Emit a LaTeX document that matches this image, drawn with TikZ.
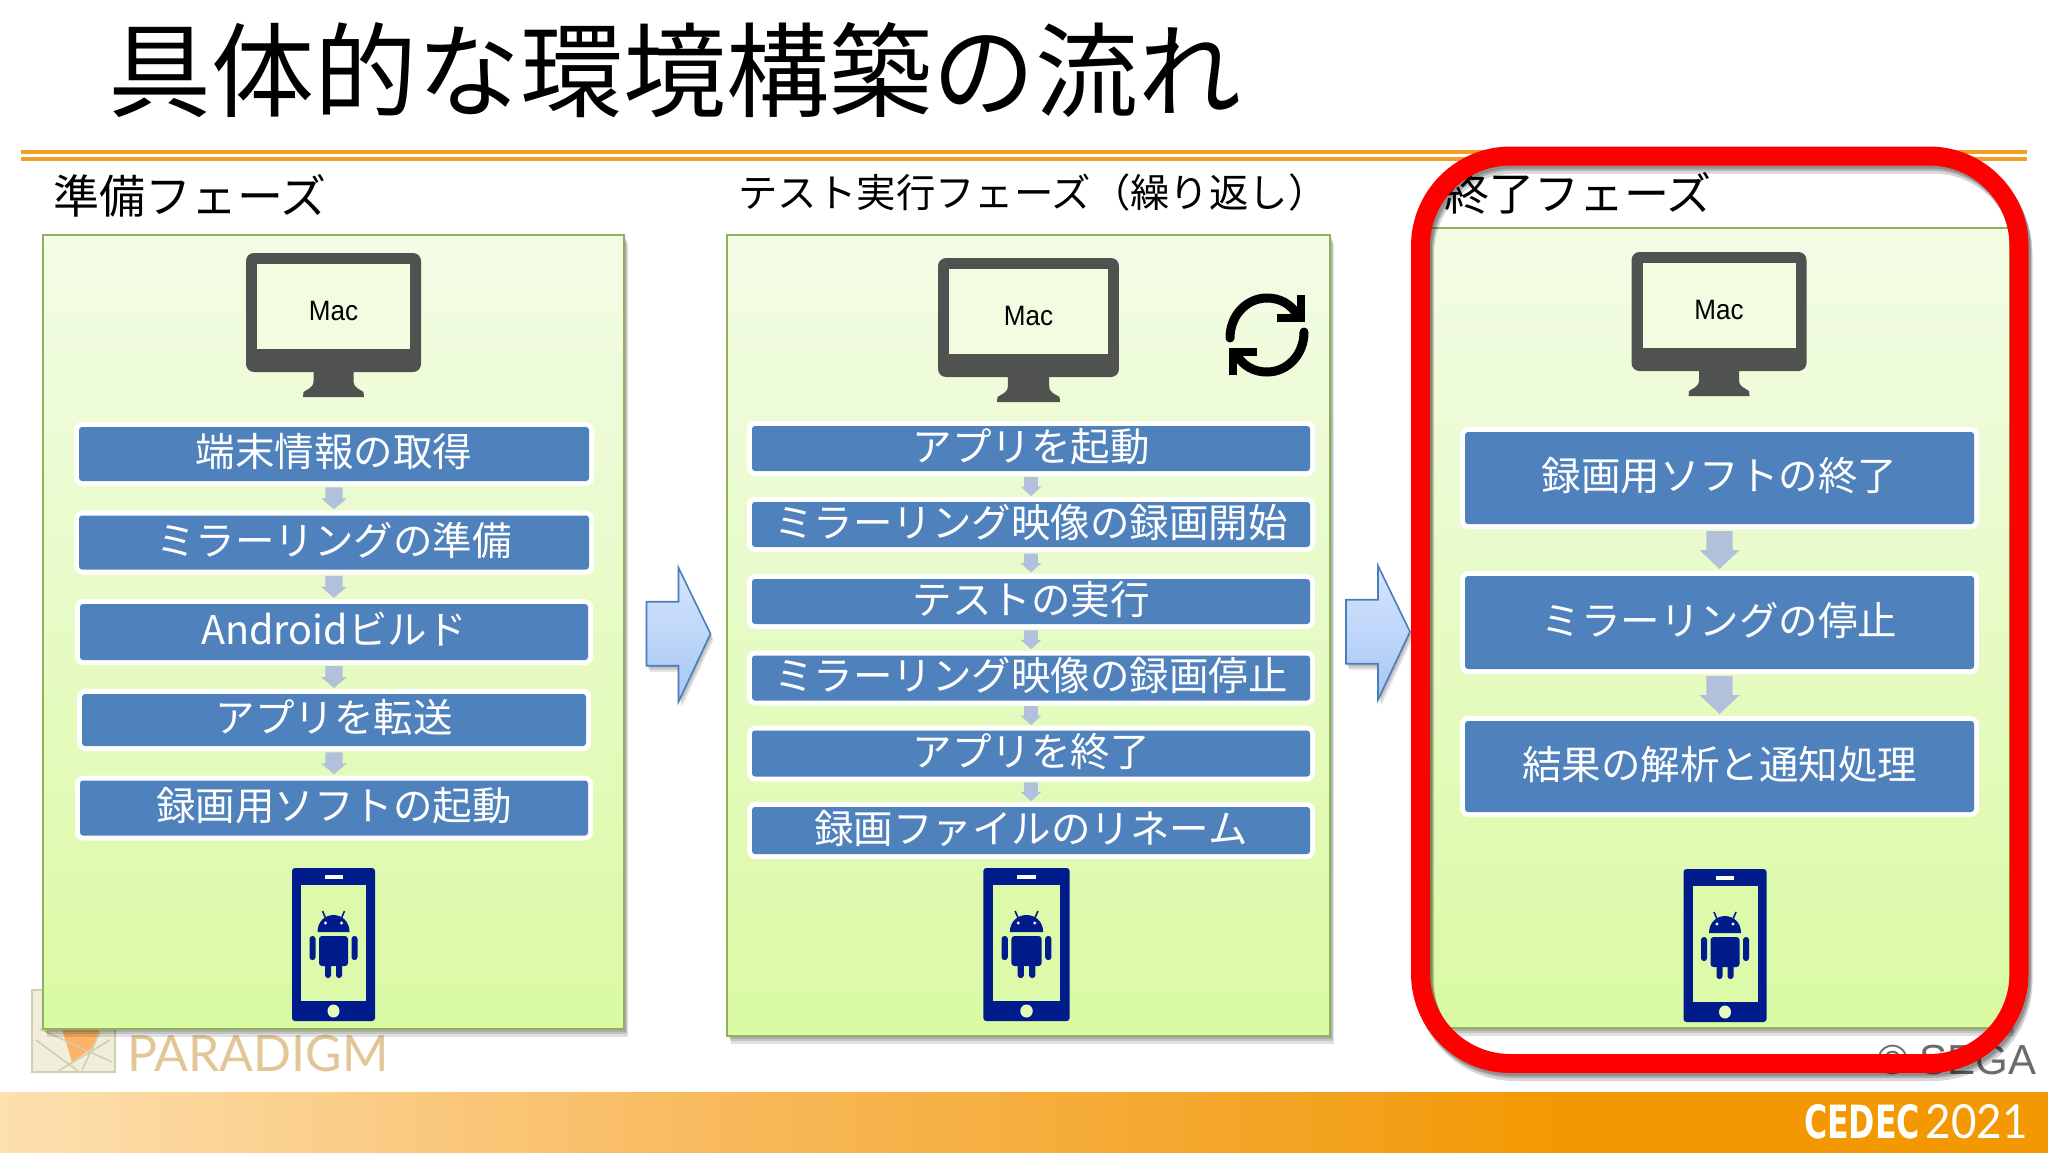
\documentclass[tikz,border=0pt]{standalone}
\usepackage{fontspec}
\usetikzlibrary{calc}
\setmainfont{Noto Sans CJK JP}
\newfontfamily\latinfont{Liberation Sans}
\newfontfamily\macfont[FakeStretch=.93]{Liberation Sans}
\newfontfamily\logofont{Lato}
\newfontfamily\cedecfont{DejaVu Sans}
\newcommand\fs[1]{\fontsize{#1pt}{#1pt}\selectfont}
\definecolor{boxblue}{HTML}{4F81BD}
\definecolor{smallarrow}{HTML}{B2C1DB}
\definecolor{macgray}{HTML}{505250}
\definecolor{phoneblue}{HTML}{001C8C}
\definecolor{rule}{HTML}{F0A028}
\definecolor{panelline}{HTML}{8FB15A}
\definecolor{paneltop}{HTML}{F3FCE6}
\definecolor{panelbot}{HTML}{DAFAA3}
\definecolor{framered}{HTML}{FF0000}
\definecolor{arrowline}{HTML}{4A7EBB}
\definecolor{arrowtop}{HTML}{D6E6FC}
\definecolor{arrowbot}{HTML}{A6C6F6}
\definecolor{barA}{HTML}{FDE0B0}
\definecolor{barB}{HTML}{F8BA5E}
\definecolor{barC}{HTML}{F3A01A}
\definecolor{barD}{HTML}{F39800}
\definecolor{logofill}{HTML}{F2EEDD}
\definecolor{logoline}{HTML}{D2CFAE}
\definecolor{logotext}{HTML}{E2C696}
\tikzset{
  x=0.5pt,y=-0.5pt,
  stepbox/.style={fill=boxblue,rounded corners=1.5pt,inner sep=0pt,text=white,
    font=\fs{19.75},text height=17.4pt,text depth=4.85pt,
    preaction={draw=white,line width=5pt,line join=round}},
  panelbox/.style={draw=panelline,line width=1pt,top color=paneltop,bottom color=panelbot,inner sep=0pt},
  heading/.style={inner sep=0pt,text=black},
  maclabel/.style={inner sep=0pt,font=\macfont\fs{14},text=black},
  bigarrow/.style={draw=arrowline,line width=.8pt,line join=miter,top color=arrowtop,bottom color=arrowbot},
}
% name, x0,y0,x1,y1
\newcommand\panel[5]{%
  \foreach \dx/\dy in {2/3,3/5,4/8}{\fill[black,opacity=.12] ({#2+\dx},{#3+\dy}) rectangle ({#4+\dx},{#5+\dy});}
  \node[panelbox,minimum width={(#4-#2)*0.5pt},minimum height={(#5-#3)*0.5pt}] (#1) at ({(#2+#4)/2},{(#3+#5)/2}) {};
}
% name, cx, top, xscale, label y offset
\newcommand\macicon[5]{%
  \begin{scope}[shift={(#2,#3)},xscale=#4]
    \fill[macgray,rounded corners=4pt] (-87.5,0) rectangle (87.5,119);
    \fill[macgray] (-20,115) -- (-20,128) .. controls (-20,135) and (-26,136) .. (-30,139) -- (-30.5,144) -- (30.5,144) -- (30,139) .. controls (26,136) and (20,135) .. (20,128) -- (20,115) -- cycle;
    \fill[paneltop!92!panelbot] (-76.5,11) rectangle (76.5,96);
  \end{scope}
  \node[maclabel] (#1) at (#2,{#3+#5}) {Mac};
}
% cx, top, xscale
\newcommand\phoneicon[3]{%
  \begin{scope}[shift={(#1,#2)},xscale=#3]
    \fill[phoneblue,rounded corners=1.5pt] (-41.5,0) rectangle (41.5,153);
    \fill[panelbot!88!paneltop] (-32.5,17) rectangle (32.5,133);
    \fill[white!85!panelbot] (-9,7) rectangle (9,11);
    \fill[panelbot!60!paneltop] (0,143) ellipse [x radius=6,y radius=6.5];
    \fill[phoneblue] (-16,64) .. controls (-16,53) and (-8,47) .. (0,47) .. controls (8,47) and (16,53) .. (16,64) -- cycle;
    \draw[phoneblue,line width=.8pt] (-8,50) -- (-11,43) (8,50) -- (11,43);
    \fill[white!85!panelbot] (-8,55) circle (1.6) (8,55) circle (1.6);
    \fill[phoneblue,rounded corners=1.5pt] (-14.5,68) rectangle (14.5,98);
    \fill[phoneblue,rounded corners=1.4pt] (-24,68) rectangle (-18,92);
    \fill[phoneblue,rounded corners=1.4pt] (18,68) rectangle (24,92);
    \fill[phoneblue,rounded corners=1.4pt] (-8.5,92) rectangle (-2.5,110);
    \fill[phoneblue,rounded corners=1.4pt] (2.5,92) rectangle (8.5,110);
  \end{scope}
}
% from, to, width, height
\newcommand\dnarrow[4]{%
  \begin{scope}[shift={($(#1.south)!.5!(#2.north)$)}]
    \fill[smallarrow] ({-.33*#3},{-.5*#4}) -- ({.33*#3},{-.5*#4}) -- ({.33*#3},0) -- ({.5*#3},0) -- (0,{.5*#4}) -- ({-.5*#3},0) -- ({-.33*#3},0) -- cycle;
  \end{scope}
}
% from, to, x offset
\newcommand\phasearrow[3]{%
  \begin{scope}[shift={($(#1.east)!.5!(#2.west)$)},xshift=#3*0.5pt]
    \foreach \d in {2,4,6}{\fill[black,opacity=.1] ({-32+\d/2},{-32+\d}) -- ({0+\d/2},{-32+\d}) -- ({0+\d/2},{-66+\d}) -- ({32+\d/2},{0+\d}) -- ({0+\d/2},{68+\d}) -- ({0+\d/2},{32+\d}) -- ({-32+\d/2},{32+\d}) -- cycle;}
    \path[bigarrow] (-32,-32) -- (0,-32) -- (0,-66) -- (32,0) -- (0,68) -- (0,32) -- (-32,32) -- cycle;
  \end{scope}
}
\begin{document}
\begin{tikzpicture}
\useasboundingbox (0,0) rectangle (2048,1152);
\fill[white] (0,0) rectangle (2048,1152);

% footer bar
\begin{scope}
\clip (0,1092) rectangle (2048,1152);
\fill[left color=barA,right color=barB] (0,1090) rectangle (701,1156);
\fill[left color=barB,right color=barC] (700,1090) rectangle (1381,1156);
\fill[left color=barC,right color=barD] (1380,1090) rectangle (1560,1156);
\fill[barD] (1559,1090) rectangle (2050,1156);
\end{scope}
\node[inner sep=0pt,text=white] (cedec) at (1862,1122) {\resizebox{58pt}{17pt}{\cedecfont\bfseries CEDEC}};
\node[inner sep=0pt,text=white] (year) at (1976.5,1122) {\resizebox{51pt}{17pt}{\logofont 2021}};

% faded logo
\fill[logofill,draw=logoline,line width=.8pt] (32,990) rectangle (115,1072);
\fill[orange!60!white] (62,1029) -- (100,1029) -- (92,1048) -- (72,1062) -- cycle;
\draw[logoline,line width=.8pt] (36,1040) -- (78,1071) (40,1029) -- (112,1062) (100,1032) -- (82,1070) (110,1040) -- (58,1071);
\node[inner sep=0pt,text=logotext,font=\logofont\fs{25}] (paradigm) at (258,1054) {PARADIGM};

% rules
\draw[rule,line width=1.6pt] (21,152) -- (2027,152);
\draw[rule,line width=1.6pt] (21,159) -- (2027,159);

% title and headings
\node[heading,font=\fs{51.5}] (title) at (675,70) {具体的な環境構築の流れ};
\node[heading,font=\fs{23}] (head1) at (190,196) {準備フェーズ};
\node[heading,font=\fs{19.7}] (head2) at (1033,193) {テスト実行フェーズ（繰り返し）};
\node[heading,font=\fs{22.5}] (head3) at (1578,193) {終了フェーズ};

% panels
\panel{p1}{43}{235}{624}{1029}
\panel{p2}{727}{235}{1330}{1036}
\panel{p3}{1428}{228}{2010}{1028}

\phasearrow{p1}{p2}{3}
\phasearrow{p2}{p3}{-1}

% icons
\macicon{mac1}{333.5}{253}{1}{58}
\macicon{mac2}{1028.5}{258}{1.034}{58}
\macicon{mac3}{1719}{252}{1}{58}
\phoneicon{333.5}{868}{1}
\phoneicon{1026.5}{868}{1.04}
\phoneicon{1725}{869}{1}

% refresh icon
\draw[black,line width=4.5pt,line cap=round] (1230,338) .. controls (1230,315) and (1247,298) .. (1267,298) .. controls (1280,298) and (1291,304) .. (1298,316);
\draw[black,line width=3.6pt,line join=miter] (1301,295) -- (1301,318) -- (1277,318);
\draw[black,line width=4.5pt,line cap=round] (1304,332) .. controls (1304,355) and (1287,372) .. (1267,372) .. controls (1254,372) and (1243,366) .. (1236,354);
\draw[black,line width=3.6pt,line join=miter] (1233,375) -- (1233,352) -- (1257,352);

% phase 1 steps
\node[stepbox,minimum width=255pt,minimum height=27pt] (a1) at (334,454) {端末情報の取得};
\node[stepbox,minimum width=255pt,minimum height=27pt] (a2) at (334,542.5) {ミラーリングの準備};
\node[stepbox,minimum width=254pt,minimum height=28pt] (a3) at (334,632) {Androidビルド};
\node[stepbox,minimum width=252pt,minimum height=26pt] (a4) at (334,720) {アプリを転送};
\node[stepbox,minimum width=254pt,minimum height=27.5pt] (a5) at (334,808) {録画用ソフトの起動};
\dnarrow{a1}{a2}{26}{22}
\dnarrow{a2}{a3}{26}{22}
\dnarrow{a3}{a4}{26}{22}
\dnarrow{a4}{a5}{26}{22}

% phase 2 steps
\node[stepbox,minimum width=279pt,minimum height=22.5pt] (b1) at (1031,448.5) {アプリを起動};
\node[stepbox,minimum width=279pt,minimum height=22.5pt] (b2) at (1031,524.5) {ミラーリング映像の録画開始};
\node[stepbox,minimum width=279pt,minimum height=22.5pt] (b3) at (1031,601.5) {テストの実行};
\node[stepbox,minimum width=279pt,minimum height=22.5pt] (b4) at (1031,678) {ミラーリング映像の録画停止};
\node[stepbox,minimum width=279pt,minimum height=23pt] (b5) at (1031,753.5) {アプリを終了};
\node[stepbox,minimum width=279pt,minimum height=23.5pt] (b6) at (1031,830.5) {録画ファイルのリネーム};
\dnarrow{b1}{b2}{21}{19}
\dnarrow{b2}{b3}{21}{19}
\dnarrow{b3}{b4}{21}{19}
\dnarrow{b4}{b5}{21}{19}
\dnarrow{b5}{b6}{21}{19}

% phase 3 steps
\node[stepbox,minimum width=254.5pt,minimum height=46pt] (c1) at (1719.5,478) {録画用ソフトの終了};
\node[stepbox,minimum width=254.5pt,minimum height=46.5pt] (c2) at (1719.5,622.5) {ミラーリングの停止};
\node[stepbox,minimum width=254.5pt,minimum height=45.5pt] (c3) at (1719.5,766.5) {結果の解析と通知処理};
\dnarrow{c1}{c2}{40}{38}
\dnarrow{c2}{c3}{40}{38}

% copyright
\node[inner sep=0pt,text=black!58,font=\latinfont\fs{21}] (sega) at (1957,1060) {© SEGA};

% red frame
\foreach \dx/\dy/\op in {2/3/.18,3/5/.18,4/8/.16}{
  \draw[black,opacity=\op,line width=9.5pt,rounded corners=45pt] ({1420.5+\dx},{156+\dy}) rectangle ({2019+\dx},{1063.5+\dy});
}
\draw[framered,line width=9.5pt,rounded corners=45pt] (1420.5,156) rectangle (2019,1063.5);
\end{tikzpicture}
\end{document}
